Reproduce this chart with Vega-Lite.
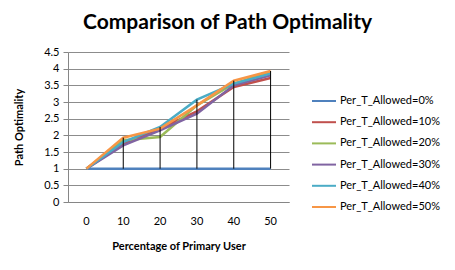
{
  "$schema": "https://vega.github.io/schema/vega-lite/v6.json",
  "width": 221,
  "height": 150,
  "autosize": "none",
  "padding": {"left": 68, "top": 52, "right": 166, "bottom": 68},
  "background": "white",
  "title": {
    "text": "Comparison of Path Optimality",
    "font": "Lato",
    "fontSize": 21,
    "fontWeight": "bold",
    "color": "#000000",
    "anchor": "middle",
    "dx": 49,
    "offset": 13
  },
  "config": {
    "view": {"stroke": null},
    "font": "Lato"
  },
  "data": {
    "values": [
      {"x": 0, "series": "Per_T_Allowed=0%", "value": 1},
      {"x": 10, "series": "Per_T_Allowed=0%", "value": 1},
      {"x": 20, "series": "Per_T_Allowed=0%", "value": 1},
      {"x": 30, "series": "Per_T_Allowed=0%", "value": 1},
      {"x": 40, "series": "Per_T_Allowed=0%", "value": 1},
      {"x": 50, "series": "Per_T_Allowed=0%", "value": 1},
      {"x": 0, "series": "Per_T_Allowed=10%", "value": 1},
      {"x": 10, "series": "Per_T_Allowed=10%", "value": 1.75},
      {"x": 20, "series": "Per_T_Allowed=10%", "value": 2.2},
      {"x": 30, "series": "Per_T_Allowed=10%", "value": 2.72},
      {"x": 40, "series": "Per_T_Allowed=10%", "value": 3.45},
      {"x": 50, "series": "Per_T_Allowed=10%", "value": 3.72},
      {"x": 0, "series": "Per_T_Allowed=20%", "value": 1},
      {"x": 10, "series": "Per_T_Allowed=20%", "value": 1.85},
      {"x": 20, "series": "Per_T_Allowed=20%", "value": 1.95},
      {"x": 30, "series": "Per_T_Allowed=20%", "value": 2.9},
      {"x": 40, "series": "Per_T_Allowed=20%", "value": 3.55},
      {"x": 50, "series": "Per_T_Allowed=20%", "value": 3.9},
      {"x": 0, "series": "Per_T_Allowed=30%", "value": 1},
      {"x": 10, "series": "Per_T_Allowed=30%", "value": 1.7},
      {"x": 20, "series": "Per_T_Allowed=30%", "value": 2.15},
      {"x": 30, "series": "Per_T_Allowed=30%", "value": 2.65},
      {"x": 40, "series": "Per_T_Allowed=30%", "value": 3.5},
      {"x": 50, "series": "Per_T_Allowed=30%", "value": 3.8},
      {"x": 0, "series": "Per_T_Allowed=40%", "value": 1},
      {"x": 10, "series": "Per_T_Allowed=40%", "value": 1.8},
      {"x": 20, "series": "Per_T_Allowed=40%", "value": 2.25},
      {"x": 30, "series": "Per_T_Allowed=40%", "value": 3.07},
      {"x": 40, "series": "Per_T_Allowed=40%", "value": 3.55},
      {"x": 50, "series": "Per_T_Allowed=40%", "value": 3.85},
      {"x": 0, "series": "Per_T_Allowed=50%", "value": 1},
      {"x": 10, "series": "Per_T_Allowed=50%", "value": 1.93},
      {"x": 20, "series": "Per_T_Allowed=50%", "value": 2.2},
      {"x": 30, "series": "Per_T_Allowed=50%", "value": 2.9},
      {"x": 40, "series": "Per_T_Allowed=50%", "value": 3.64},
      {"x": 50, "series": "Per_T_Allowed=50%", "value": 3.93}
    ]
  },
  "encoding": {
    "x": {
      "field": "x",
      "type": "ordinal",
      "sort": "ascending",
      "scale": {"paddingInner": 0, "paddingOuter": 0},
      "axis": {
        "title": "Percentage of Primary User",
        "titleFont": "Lato",
        "titleFontSize": 11,
        "titleFontWeight": "bold",
        "titleColor": "#000000",
        "titlePadding": 14,
        "labelAngle": 0,
        "labelFont": "Lato",
        "labelFontSize": 11,
        "labelColor": "#000000",
        "labelPadding": 13,
        "ticks": false,
        "domainColor": "#868686",
        "grid": false
      }
    }
  },
  "layer": [
    {
      "mark": {"type": "line", "strokeWidth": 2.5},
      "encoding": {
        "y": {
          "field": "value",
          "type": "quantitative",
          "scale": {"domain": [0, 4.5], "nice": false},
          "axis": {
            "title": "Path Optimality",
            "titleFont": "Lato",
            "titleFontSize": 11,
            "titleFontWeight": "bold",
            "titleColor": "#000000",
            "titlePadding": 19,
            "values": [0, 0.5, 1, 1.5, 2, 2.5, 3, 3.5, 4, 4.5],
            "format": "~g",
            "labelFont": "Lato",
            "labelFontSize": 11,
            "labelColor": "#000000",
            "labelPadding": 4,
            "tickSize": 5,
            "tickColor": "#868686",
            "domainColor": "#868686",
            "gridColor": "#8c8c8c",
            "gridOpacity": 1
          }
        },
        "color": {
          "field": "series",
          "type": "nominal",
          "scale": {
            "domain": ["Per_T_Allowed=0%", "Per_T_Allowed=10%", "Per_T_Allowed=20%", "Per_T_Allowed=30%", "Per_T_Allowed=40%", "Per_T_Allowed=50%"],
            "range": ["#4F81BD", "#C0504D", "#9BBB59", "#8064A2", "#4BACC6", "#F79646"]
          },
          "legend": {
            "title": null,
            "orient": "none",
            "legendX": 243,
            "legendY": 36,
            "symbolType": "stroke",
            "symbolSize": 576,
            "symbolStrokeWidth": 2,
            "labelFont": "Lato",
            "labelFontSize": 11,
            "labelColor": "#000000",
            "labelOffset": 3,
            "rowPadding": 3.2
          }
        }
      }
    },
    {
      "mark": {"type": "rule", "color": "#000000", "strokeWidth": 1},
      "encoding": {
        "y": {
          "aggregate": "min",
          "field": "value",
          "type": "quantitative",
          "axis": {
            "title": "Path Optimality",
            "titleFont": "Lato",
            "titleFontSize": 11,
            "titleFontWeight": "bold",
            "titleColor": "#000000",
            "titlePadding": 19,
            "values": [0, 0.5, 1, 1.5, 2, 2.5, 3, 3.5, 4, 4.5],
            "format": "~g",
            "labelFont": "Lato",
            "labelFontSize": 11,
            "labelColor": "#000000",
            "labelPadding": 4,
            "tickSize": 5,
            "tickColor": "#868686",
            "domainColor": "#868686",
            "gridColor": "#8c8c8c",
            "gridOpacity": 1
          }
        },
        "y2": {"aggregate": "max", "field": "value"}
      }
    }
  ]
}
